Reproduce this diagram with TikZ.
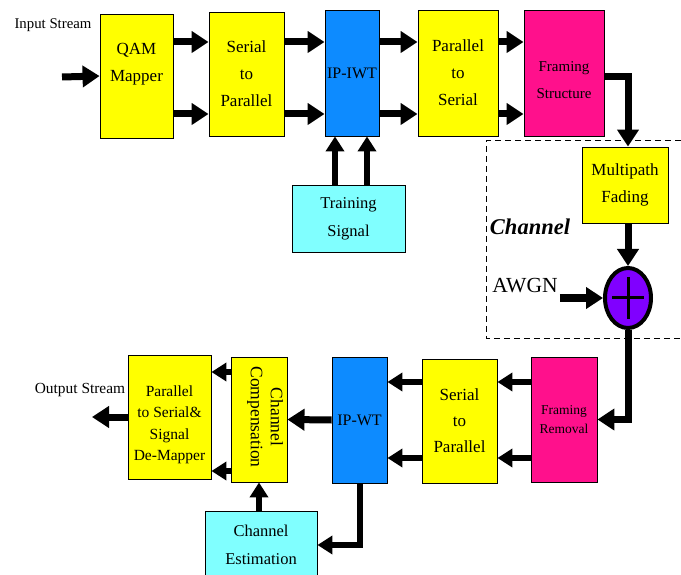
\documentclass[tikz,border=0pt]{standalone}
\usepackage{fontspec}
\setmainfont{Liberation Serif}
\usetikzlibrary{arrows.meta,shapes.geometric}

\definecolor{boxyellow}{HTML}{FFFF00}
\definecolor{boxblue}{HTML}{0D8BFF}
\definecolor{boxpink}{HTML}{FF108C}
\definecolor{boxcyan}{HTML}{80FFFF}
\definecolor{boxpurple}{HTML}{8000FF}

\tikzset{
  blk/.style={draw, line width=0.9pt, align=center, inner sep=0pt,
    font=\fontsize{17}{27}\selectfont},
  ybox/.style={blk, fill=boxyellow},
  bbox/.style={blk, fill=boxblue},
  pbox/.style={blk, fill=boxpink},
  cbox/.style={blk, fill=boxcyan},
  flow/.style={line width=7pt, -{Triangle[length=17pt,width=21pt]}},
  lowflow/.style={line width=6pt, -{Triangle[length=15pt,width=18pt]}},
}

\begin{document}
\begin{tikzpicture}[x=1pt,y=-1pt]
    \useasboundingbox (0,0) rectangle (681,575);

    % transmitter
    \node [ybox, minimum width=73pt, minimum height=124pt, text depth=28pt] (qam) at (136.5,76) {QAM\\Mapper};
    \node [ybox, minimum width=75pt, minimum height=124pt] (sptop) at (246.5,74) {Serial\\to\\Parallel};
    \node [bbox, minimum width=54pt, minimum height=126pt, font=\fontsize{16}{20}\selectfont] (iwt) at (352,73) {IP-IWT};
    \node [ybox, minimum width=80pt, minimum height=126pt] (pstop) at (458,73) {Parallel\\to\\Serial};
    \node [pbox, minimum width=80pt, minimum height=126pt, text height=51pt, font=\fontsize{15}{27}\selectfont] (frs) at (564,73) {Framing\\Structure};
    \node [cbox, minimum width=113pt, minimum height=67pt, font=\fontsize{16.5}{28}\selectfont] (ts) at (348.5,218.5) {Training\\Signal};

    % channel
    \draw [line width=1pt, dash pattern=on 6pt off 4pt] (681,141) -| (486,338) -- (681,338);
    \node [ybox, minimum width=86pt, minimum height=76pt] (mf) at (625,185) {Multipath\\Fading};
    \node [ellipse, draw, line width=4pt, fill=boxpurple, minimum width=46pt, minimum height=60pt, inner sep=0pt] (add) at (628,298) {};
    \draw [line width=3pt] ([xshift=-16pt]add.center) -- ([xshift=16pt]add.center);
    \draw [line width=3pt] ([yshift=21pt]add.center) -- ([yshift=-21pt]add.center);
    \node [font=\fontsize{22.5}{26}\selectfont\bfseries\itshape, inner sep=1pt] (chan) at (530,227) {Channel};
    \node [font=\fontsize{21.5}{26}\selectfont, inner sep=2pt] (awgn) at (525,286) {AWGN};

    % receiver
    \node [pbox, minimum width=66pt, minimum height=125pt, font=\fontsize{13.5}{19}\selectfont] (frm) at (564,419.5) {Framing\\Removal};
    \node [ybox, minimum width=75pt, minimum height=124pt, font=\fontsize{17}{26}\selectfont] (spbot) at (459.5,421) {Serial\\to\\Parallel};
    \node [bbox, minimum width=55pt, minimum height=126pt, font=\fontsize{16}{20}\selectfont] (iwtb) at (359.5,420) {IP-WT};
    \node [ybox, minimum width=56pt, minimum height=125pt] (comp) at (259,419.5) {};
    \node [rotate=-90, align=center, inner sep=0pt, font=\fontsize{17.5}{20}\selectfont] (compt) at (265,417) {Channel\\Compensation};
    \node [ybox, minimum width=83pt, minimum height=124pt, text height=91pt, font=\fontsize{15.5}{21.5}\selectfont] (psd) at (169.5,417) {Parallel\\to Serial\&\\Signal\\De-Mapper};
    \node [cbox, minimum width=112pt, minimum height=68pt, font=\fontsize{16.5}{28}\selectfont] (est) at (261,545) {Channel\\Estimation};

    \node [font=\fontsize{14.8}{18}\selectfont, inner sep=1pt] (instr) at (53,25) {Input Stream};
    \node [font=\fontsize{15.4}{18}\selectfont, inner sep=1pt] (outstr) at (80,390) {Output Stream};
    \coordinate (inend) at (62,77);
    \coordinate (outend) at (92,417);

    % connectors
    \draw [flow] (inend) -- (qam.west);
    \draw [flow] (qam.east |- 0,42) -- (sptop.west |- 0,42);
    \draw [flow] (qam.east |- 0,114) -- (sptop.west |- 0,114);
    \draw [flow] (sptop.east |- 0,42) -- (iwt.west |- 0,42);
    \draw [flow] (sptop.east |- 0,114) -- (iwt.west |- 0,114);
    \draw [flow] (iwt.east |- 0,42) -- (pstop.west |- 0,42);
    \draw [flow] (iwt.east |- 0,114) -- (pstop.west |- 0,114);
    \draw [flow] (pstop.east |- 0,42) -- (frs.west |- 0,42);
    \draw [flow] (pstop.east |- 0,114) -- (frs.west |- 0,114);
    \draw [lowflow] (ts.north -| 335,0) -- (iwt.south -| 335,0);
    \draw [lowflow] (ts.north -| 367,0) -- (iwt.south -| 367,0);
    \draw [flow] (frs.east |- 0,77) -| (mf.north -| add.north);
    \draw [flow] (mf.south -| add.north) -- (add.north);
    \draw [flow] (awgn.east |- add.west) -- (add.west);
    \draw [flow] (add.south) |- (frm.east);
    \draw [lowflow] (frm.west |- 0,382) -- (spbot.east |- 0,382);
    \draw [lowflow] (frm.west |- 0,458) -- (spbot.east |- 0,458);
    \draw [lowflow] (spbot.west |- 0,382) -- (iwtb.east |- 0,382);
    \draw [lowflow] (spbot.west |- 0,458) -- (iwtb.east |- 0,458);
    \draw [flow] (iwtb.west) -- (comp.east);
    \draw [lowflow] (iwtb.south) |- (est.east);
    \draw [lowflow] (est.north -| comp.south) -- (comp.south);
    \draw [lowflow] (comp.west |- 0,372) -- (psd.east |- 0,372);
    \draw [lowflow] (comp.west |- 0,471) -- (psd.east |- 0,471);
    \draw [flow] (psd.west) -- (outend);
\end{tikzpicture}
\end{document}
